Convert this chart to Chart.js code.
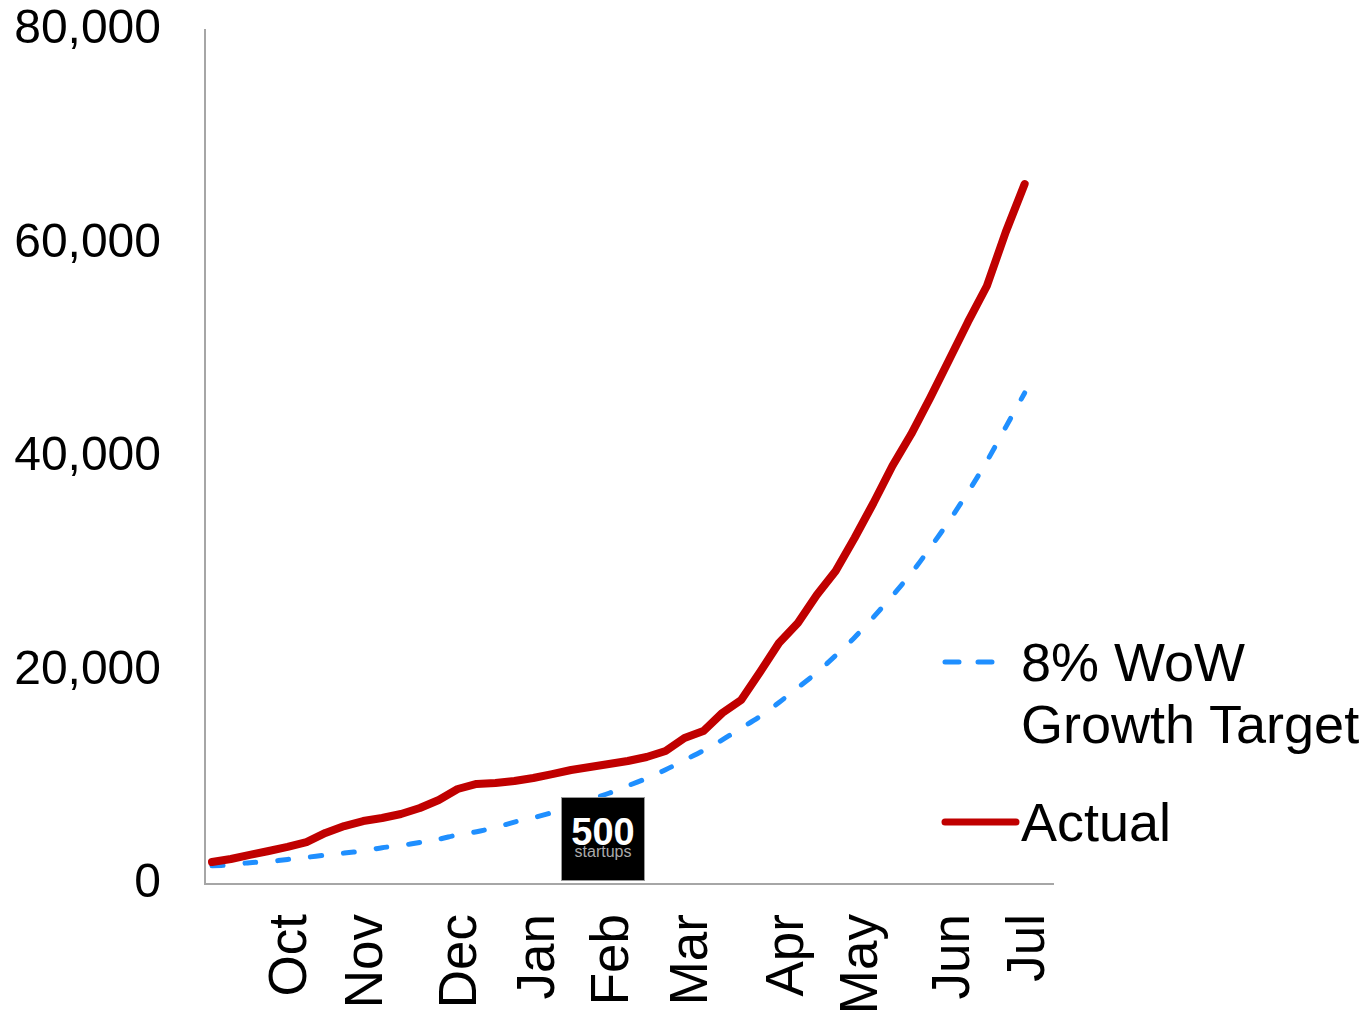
<!DOCTYPE html>
<html>
<head>
<meta charset="utf-8">
<title>Growth vs target</title>
<script src="https://cdn.jsdelivr.net/npm/chart.js@4.4.1/dist/chart.umd.min.js"></script>
<style>
  html, body { margin: 0; padding: 0; background: #fff; }
  #wrap { position: relative; width: 1370px; height: 1016px; font-family: "Liberation Sans", Arial, sans-serif; }
  #myChart { position: absolute; left: 0; top: 0; }
  .leg-text { position: absolute; left: 1021px; font-size: 54px; line-height: 62px; color: #000; white-space: nowrap; }
  #leg-lines { position: absolute; left: 930px; top: 640px; }
  #logo { position: absolute; left: 561px; top: 797px; width: 82px; height: 82px; background: #000; border: 1px solid #999; }
  #logo .big { position: absolute; left: 0; width: 82px; top: 16px; text-align: center; color: #fff; font-weight: bold; font-size: 38px; line-height: 36px; }
  #logo .small { position: absolute; left: 0; width: 82px; top: 46px; text-align: center; color: #aaa; font-size: 16px; line-height: 16px; }
</style>
</head>
<body>
<div id="wrap">
  <canvas id="myChart" width="1370" height="1016"></canvas>
  <svg id="leg-lines" width="100" height="200">
    <line x1="15" y1="22" x2="65" y2="22" stroke="#1F8FFF" stroke-width="5" stroke-linecap="round" stroke-dasharray="14 19"></line>
    <line x1="15" y1="182" x2="86" y2="182" stroke="#C00000" stroke-width="7" stroke-linecap="round"></line>
  </svg>
  <div class="leg-text" style="top:631px">8% WoW<br>Growth Target</div>
  <div class="leg-text" style="top:791px">Actual</div>
  <div id="logo"><div class="big">500</div><div class="small">startups</div></div>
</div>
<script>
// weekly numbers
const actual = [2060, 2340, 2720, 3090, 3470, 3930, 4780, 5430, 5900, 6180,
                6560, 7120, 7870, 8900, 9370, 9460, 9650, 9930, 10300, 10680,
                10960, 11240, 11520, 11900, 12460, 13680, 14330, 16020, 17240, 19860,
                22580, 24450, 27070, 29320, 32410, 35690, 39160, 42150, 45530, 49090,
                52650, 56020, 61080, 65570]
const target = [1700, 1800, 2000, 2100, 2300, 2500, 2700, 2900, 3100, 3400,
                3600, 3900, 4200, 4600, 4900, 5300, 5800, 6200, 6700, 7300,
                7900, 8500, 9200, 9900, 10700, 11600, 12500, 13500, 14600, 15700,
                17000, 18400, 19800, 21400, 23100, 25000, 27000, 29100, 31500, 34000,
                36700, 39600, 42800, 46000]
const monthNames = ["Oct", "Nov", "Dec", "Jan", "Feb", "Mar", "Apr", "May", "Jun", "Jul"]
const monthWeeks = [4.2, 8.2, 13.2, 17.3, 21.25, 25.4, 30.5, 34.4, 39.3, 43.25]
const yTicks = [0, 20000, 40000, 60000, 80000]

const ctx = document.getElementById('myChart')
const toPoints = (arr) => arr.map((v, i) => ({ x: i, y: v }))

// labels may hang over the plot edges, don't let them push the plot in
function noPad(scale) {
    scale.paddingTop = 0
    scale.paddingBottom = 0
    scale.paddingLeft = 0
    scale.paddingRight = 0
}

const chart = new Chart(ctx, {
    type: 'line',
    data: {
        datasets: [{
            label: 'Actual',
            data: toPoints(actual),
            borderColor: "#C00000",
            borderWidth: 8,
            pointRadius: 0,
            tension: 0,
            borderJoinStyle: 'round',
            borderCapStyle: 'round'
        },
        {
            label: '8% WoW Growth Target',
            data: toPoints(target),
            borderColor: "#1F8FFF",
            borderWidth: 5,
            borderDash: [11, 22],
            borderCapStyle: 'round',
            pointRadius: 0,
            tension: 0.3
        }]
    },
    options: {
        responsive: false,
        animation: false,
        layout: { padding: { top: 30, right: 317, left: 0, bottom: 0 } },
        plugins: { legend: { display: false }, tooltip: { enabled: false } },
        scales: {
            x: {
                type: 'linear',
                min: -0.37,
                max: 44.5,
                grid: { display: false, drawTicks: false },
                border: { display: true, color: '#a6a6a6', width: 2 },
                afterBuildTicks: (scale) => { scale.ticks = monthWeeks.map(v => ({ value: v })) },
                afterFit: (scale) => { scale.height = 132; noPad(scale) },
                ticks: {
                    autoSkip: false,
                    maxRotation: 90,
                    minRotation: 90,
                    padding: 30,
                    color: '#000',
                    font: { family: 'Liberation Sans', size: 53 },
                    callback: (v) => monthNames[monthWeeks.indexOf(v)]
                }
            },
            y: {
                min: 0,
                max: 80000,
                grid: { display: false, drawTicks: false },
                border: { display: true, color: '#a6a6a6', width: 2 },
                afterBuildTicks: (scale) => { scale.ticks = yTicks.map(v => ({ value: v })) },
                afterFit: (scale) => { scale.width = 205; noPad(scale) },
                ticks: {
                    padding: 44,
                    color: '#000',
                    font: { family: 'Liberation Sans', size: 48 },
                    callback: (v) => v.toLocaleString('en-US')
                }
            }
        }
    }
});
</script>
</body>
</html>
